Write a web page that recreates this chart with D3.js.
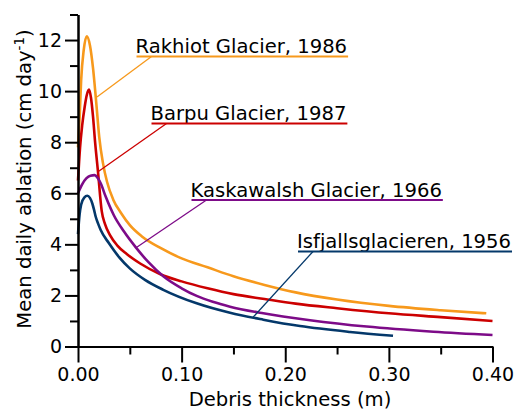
<!DOCTYPE html>
<html>
<head>
<meta charset="utf-8">
<script src="https://cdn.jsdelivr.net/npm/d3@7"></script>
<style>
  html, body { margin: 0; padding: 0; background: #fff; }
  svg { display: block; font-family: "DejaVu Sans", sans-serif; }
</style>
</head>
<body>
<svg id="chart" width="526" height="410"></svg>
<script>
// ---- Data ----
const glaciers = ["Rakhiot Glacier, 1986", "Barpu Glacier, 1987", "Kaskawalsh Glacier, 1966", "Isfjallsglacieren, 1956"];

const rakhiotX = [0, 0.0016, 0.003, 0.0055, 0.0084, 0.0115, 0.0145, 0.0175, 0.0205, 0.024, 0.028, 0.034, 0.042, 0.05, 0.062, 0.08, 0.1, 0.125, 0.15, 0.18, 0.21, 0.25, 0.30, 0.35, 0.394];
const rakhiotY = [7.8, 9.0, 10.4, 11.6, 12.15, 11.8, 10.9, 9.6, 8.2, 7.2, 6.45, 5.75, 5.2, 4.75, 4.3, 3.85, 3.45, 3.1, 2.75, 2.41, 2.12, 1.84, 1.59, 1.42, 1.30];

const barpuX = [0, 0.002, 0.004, 0.0065, 0.0085, 0.0106, 0.0125, 0.0145, 0.0165, 0.0193, 0.0229, 0.026, 0.031, 0.038, 0.047, 0.06, 0.08, 0.1, 0.125, 0.15, 0.18, 0.21, 0.25, 0.30, 0.35, 0.40];
const barpuY = [6.5, 7.8, 8.65, 9.4, 9.85, 10.06, 9.75, 9.0, 8.0, 6.84, 5.3, 4.8, 4.35, 3.95, 3.62, 3.25, 2.82, 2.55, 2.28, 2.05, 1.86, 1.68, 1.50, 1.30, 1.15, 1.00];

const kaskawalshX = [0, 0.004, 0.008, 0.012, 0.016, 0.019, 0.0219, 0.0267, 0.0347, 0.0444, 0.056, 0.068, 0.0823, 0.1, 0.1145, 0.13, 0.1467, 0.1788, 0.2239, 0.2786, 0.343, 0.400];
const kaskawalshY = [6.0, 6.35, 6.58, 6.69, 6.71, 6.6, 6.39, 5.87, 5.13, 4.5, 3.87, 3.3, 2.75, 2.28, 1.98, 1.75, 1.56, 1.30, 1.03, 0.78, 0.58, 0.45];

const isfjallX = [0, 0.0015, 0.003, 0.006, 0.009, 0.0115, 0.0138, 0.0155, 0.0171, 0.0195, 0.0219, 0.0299, 0.0396, 0.0502, 0.065, 0.0823, 0.1145, 0.1467, 0.1788, 0.2142, 0.2625, 0.304];
const isfjallY = [4.4, 5.15, 5.55, 5.83, 5.9, 5.82, 5.6, 5.35, 5.08, 4.8, 4.56, 4.04, 3.5, 3.05, 2.6, 2.22, 1.69, 1.32, 1.05, 0.80, 0.57, 0.42];

// point on each curve where the label leader ends (data units)
const leaderX = [0.0183, 0.0193, 0.056, 0.1686];
const leaderY = [9.77, 6.84, 3.87, 1.13];

const colors = ["#f7991c", "#cc0000", "#7d0b88", "#04386a"];

const xMajorTicks = [0, 0.1, 0.2, 0.3, 0.4];
const xMinorTicks = [0.05, 0.15, 0.25, 0.35];
const yMajorTicks = [0, 2, 4, 6, 8, 10, 12];
const yMinorTicks = [1, 3, 5, 7, 9, 11, 13];

const xTitle = "Debris thickness (m)";

// ---- Layout ----
const svg = d3.select("#chart");
const x = d3.scaleLinear().domain([0, 0.4]).range([78, 492.5]);
const y = d3.scaleLinear().domain([0, 13]).range([346.5, 14.5]);
const FS = 19.6;
const TFS = 19;

const series = [
  { xs: rakhiotX, ys: rakhiotY },
  { xs: barpuX, ys: barpuY },
  { xs: kaskawalshX, ys: kaskawalshY },
  { xs: isfjallX, ys: isfjallY }
];

// label layout (pixels): text start x, baseline y
const labelPos = [
  { x: 135.5, y: 53 },
  { x: 150.5, y: 120 },
  { x: 190.5, y: 196.5 },
  { x: 297, y: 248 }
];

// ---- Curves ----
const line = d3.line().x(d => x(d[0])).y(d => y(d[1])).curve(d3.curveMonotoneX);
const curvesG = svg.append("g");
series.forEach((s, i) => {
  const pts = s.xs.map((v, k) => [v, s.ys[k]]);
  curvesG.append("path")
    .attr("d", line(pts))
    .attr("fill", "none")
    .attr("stroke", colors[i])
    .attr("stroke-width", 2.6)
    .attr("stroke-linejoin", "round");
});

// ---- Axes ----
function styleAxis(g) {
  g.select(".domain").attr("stroke", "#000").attr("stroke-width", 2);
  g.selectAll(".tick line").attr("stroke", "#000").attr("stroke-width", 2);
  g.selectAll(".tick text").attr("fill", "#000").style("font-size", TFS + "px").style("font-family", "DejaVu Sans");
}

const yAxis = svg.append("g").attr("transform", `translate(${x(0)},0)`)
  .call(d3.axisLeft(y).tickValues(yMajorTicks).tickSize(13).tickSizeOuter(0).tickPadding(3).tickFormat(d3.format("d")));
styleAxis(yAxis);
const yMinor = svg.append("g").attr("transform", `translate(${x(0)},0)`)
  .call(d3.axisLeft(y).tickValues(yMinorTicks).tickSize(8).tickSizeOuter(0).tickFormat(""));
styleAxis(yMinor);

const xAxis = svg.append("g").attr("transform", `translate(0,${y(0)})`)
  .call(d3.axisBottom(x).tickValues(xMajorTicks).tickSize(16).tickSizeOuter(0).tickPadding(5).tickFormat(d3.format(".2f")));
styleAxis(xAxis);
const xMinor = svg.append("g").attr("transform", `translate(0,${y(0)})`)
  .call(d3.axisBottom(x).tickValues(xMinorTicks).tickSize(8).tickSizeOuter(0).tickFormat(""));
styleAxis(xMinor);

// ---- Axis titles ----
svg.append("text")
  .attr("x", 290).attr("y", 406)
  .attr("text-anchor", "middle")
  .style("font-size", FS + "px")
  .text(xTitle);

const yt = svg.append("text")
  .attr("transform", "translate(31,179) rotate(-90)")
  .attr("text-anchor", "middle")
  .style("font-size", FS + "px");
yt.append("tspan").text("Mean daily ablation (cm day");
yt.append("tspan").attr("dy", -7).style("font-size", "13.5px").text("-1");
yt.append("tspan").attr("dy", 7).text(")");

// ---- Labels with underline and leader ----
glaciers.forEach((name, i) => {
  const p = labelPos[i];
  const t = svg.append("text")
    .attr("x", p.x).attr("y", p.y)
    .style("font-size", FS + "px")
    .attr("fill", "#000")
    .text(name);
  const w = t.node().getComputedTextLength();
  const uy = p.y + 3.5;
  svg.append("line")
    .attr("x1", p.x + 1).attr("x2", p.x + w + 1)
    .attr("y1", uy).attr("y2", uy)
    .attr("stroke", colors[i]).attr("stroke-width", 2);
  svg.append("line")
    .attr("x1", p.x + 16).attr("y1", uy)
    .attr("x2", x(leaderX[i])).attr("y2", y(leaderY[i]))
    .attr("stroke", colors[i]).attr("stroke-width", 1.3);
});
</script>
</body>
</html>
